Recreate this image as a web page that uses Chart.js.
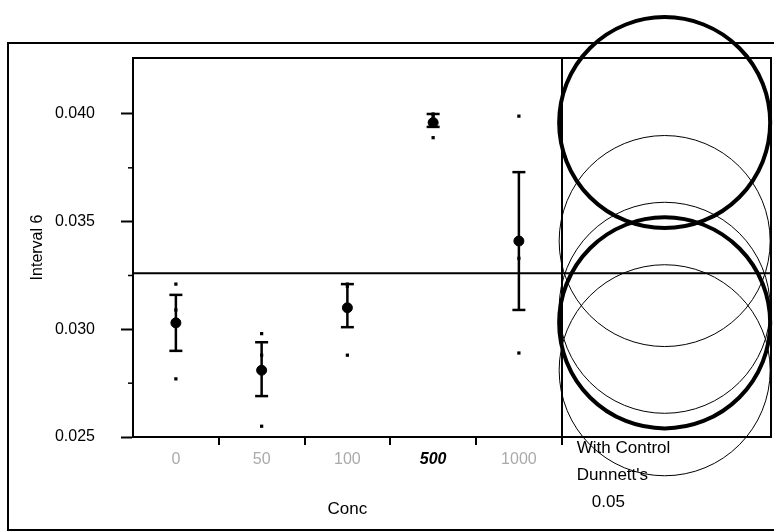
<!DOCTYPE html>
<html>
<head>
<meta charset="utf-8">
<script src="https://cdn.jsdelivr.net/npm/chart.js@4"></script>
<style>
  html, body { margin: 0; padding: 0; background: #fff; }
</style>
</head>
<body>
<canvas id="chart" width="774" height="531"></canvas>
<script>
// groups on the x axis
const concLabels = ['0', '50', '100', '500', '1000']

// raw observations per group
const obs0 = [0.0321, 0.0309, 0.0277]
const obs50 = [0.0298, 0.0288, 0.0255]
const obs100 = [0.0320, 0.0321, 0.0288]
const obs500 = [0.0400, 0.0399, 0.0389]
const obs1000 = [0.0399, 0.0333, 0.0289]

// group means and error bar ends
const groupMeans = [0.0303, 0.0281, 0.0310, 0.0396, 0.0341]
const errLow = [0.0290, 0.0269, 0.0301, 0.0394, 0.0309]
const errHigh = [0.0316, 0.0294, 0.0321, 0.0400, 0.0373]

// grand mean line
const grandMean = 0.0326

// comparison circle radii (in y units), thick ones are control and significant
const circleRadii = [0.0049, 0.0049, 0.0049, 0.0049, 0.0049]
const thickCircle = [true, false, false, true, false]

// y axis ticks
const yTicks = [0.025, 0.030, 0.035, 0.040]
const yMinorTicks = [0.0275, 0.0325, 0.0375]

const FONT = "'Liberation Sans', Arial, sans-serif"
const X_MAX = 6.94
const CIRCLE_X = 5.7
const boundaries = [0.5, 1.5, 2.5, 3.5, 4.5]

const observations = [obs0, obs50, obs100, obs500, obs1000]

const rawPoints = []
observations.forEach((group, i) => {
	group.forEach((v) => rawPoints.push({ x: i, y: v }))
})

const errorPoints = []
errLow.forEach((lo, i) => {
	errorPoints.push({ x: i, y: lo }, { x: i, y: errHigh[i] }, { x: i, y: null })
})

const framePlugin = {
	id: 'frame',
	beforeDatasetsDraw(chart) {
		const { ctx, chartArea: a } = chart
		ctx.save()
		ctx.strokeStyle = '#000'
		ctx.lineWidth = 2
		ctx.strokeRect(a.left, a.top, a.right - a.left, a.bottom - a.top)
		// outer frame
		ctx.beginPath()
		ctx.moveTo(8, 531)
		ctx.lineTo(8, 43)
		ctx.lineTo(774, 43)
		ctx.moveTo(8, 530)
		ctx.lineTo(774, 530)
		ctx.stroke()
		// minor y ticks
		const y = chart.scales.y
		ctx.lineWidth = 1.5
		yMinorTicks.forEach((v) => {
			const py = y.getPixelForValue(v)
			ctx.beginPath()
			ctx.moveTo(a.left - 5, py)
			ctx.lineTo(a.left, py)
			ctx.stroke()
		})
		ctx.restore()
	},
	afterDraw(chart) {
		const { ctx, chartArea: a } = chart
		const x = chart.scales.x
		ctx.save()
		ctx.textAlign = 'center'
		ctx.textBaseline = 'middle'
		concLabels.forEach((label, i) => {
			const px = x.getPixelForValue(i)
			if (label === '500') {
				ctx.font = `italic bold 16px ${FONT}`
				ctx.fillStyle = '#000'
			} else {
				ctx.font = `16px ${FONT}`
				ctx.fillStyle = '#aaa'
			}
			ctx.fillText(label, px, a.bottom + 23)
		})
		ctx.font = `17px ${FONT}`
		ctx.fillStyle = '#000'
		const mid = (x.getPixelForValue(-0.5) + x.getPixelForValue(4.5)) / 2
		ctx.fillText('Conc', mid, a.bottom + 72)
		const panelLeft = x.getPixelForValue(4.5)
		ctx.textAlign = 'left'
		ctx.fillText('With Control', panelLeft + 15, a.bottom + 11)
		ctx.fillText("Dunnett's", panelLeft + 15, a.bottom + 38)
		ctx.fillText('0.05', panelLeft + 30, a.bottom + 65)
		ctx.restore()
	},
}

new Chart(document.getElementById('chart'), {
	type: 'scatter',
	data: {
		datasets: [
			{
				label: 'error bars',
				data: errorPoints,
				showLine: true,
				spanGaps: false,
				borderColor: '#000',
				borderWidth: 2.5,
				pointStyle: 'line',
				pointRadius: 6.5,
				pointBorderWidth: 2.5,
				pointBorderColor: '#000',
			},
			{
				label: 'means',
				data: groupMeans.map((m, i) => ({ x: i, y: m })),
				pointStyle: 'circle',
				pointRadius: 5,
				backgroundColor: '#000',
				borderColor: '#000',
			},
			{
				label: 'observations',
				data: rawPoints,
				pointStyle: 'rect',
				pointRadius: 2.3,
				backgroundColor: '#000',
				borderColor: '#000',
				borderWidth: 0,
			},
			{
				label: 'grand mean',
				data: [{ x: -0.5, y: grandMean }, { x: X_MAX, y: grandMean }],
				showLine: true,
				borderColor: '#000',
				borderWidth: 2,
				pointRadius: 0,
				clip: false,
			},
			{
				label: 'comparison circles',
				data: groupMeans.map((m) => ({ x: CIRCLE_X, y: m })),
				backgroundColor: 'rgba(0,0,0,0)',
				borderColor: '#000',
				pointRadius: (c) => {
					const s = c.chart.scales.y
					const v = groupMeans[c.dataIndex]
					return Math.abs(s.getPixelForValue(v) - s.getPixelForValue(v + circleRadii[c.dataIndex]))
				},
				pointBorderWidth: (c) => (thickCircle[c.dataIndex] ? 4 : 1),
				clip: false,
			},
		],
	},
	options: {
		responsive: false,
		animation: false,
		events: [],
		layout: { autoPadding: false, padding: { left: 0, right: 3, top: 58, bottom: 0 } },
		plugins: {
			legend: { display: false },
			tooltip: { enabled: false },
		},
		scales: {
			x: {
				type: 'linear',
				min: -0.5,
				max: X_MAX,
				afterBuildTicks: (s) => {
					s.ticks = boundaries.map((v) => ({ value: v }))
				},
				afterFit: (s) => {
					s.height = 94
				},
				ticks: { display: false },
				grid: {
					color: (c) => (c.tick && c.tick.value === 4.5 ? '#000' : 'rgba(0,0,0,0)'),
					lineWidth: 2,
					tickColor: '#000',
					tickWidth: 2,
					tickLength: 8,
				},
				border: { color: '#000', width: 2 },
			},
			y: {
				type: 'linear',
				min: 0.025,
				max: 0.0426,
				afterBuildTicks: (s) => {
					s.ticks = yTicks.map((v) => ({ value: v }))
				},
				afterFit: (s) => {
					s.width = 133
				},
				ticks: {
					color: '#000',
					font: { family: FONT, size: 16 },
					padding: 26,
					callback: (v) => Number(v).toFixed(3),
				},
				grid: {
					drawOnChartArea: false,
					tickLength: 12,
					tickWidth: 2,
					tickColor: '#000',
				},
				border: { color: '#000', width: 2 },
				title: {
					display: true,
					text: 'Interval 6',
					color: '#000',
					font: { family: FONT, size: 16 },
					padding: { top: 28, bottom: 0 },
				},
			},
		},
	},
	plugins: [framePlugin],
})
</script>
</body>
</html>
